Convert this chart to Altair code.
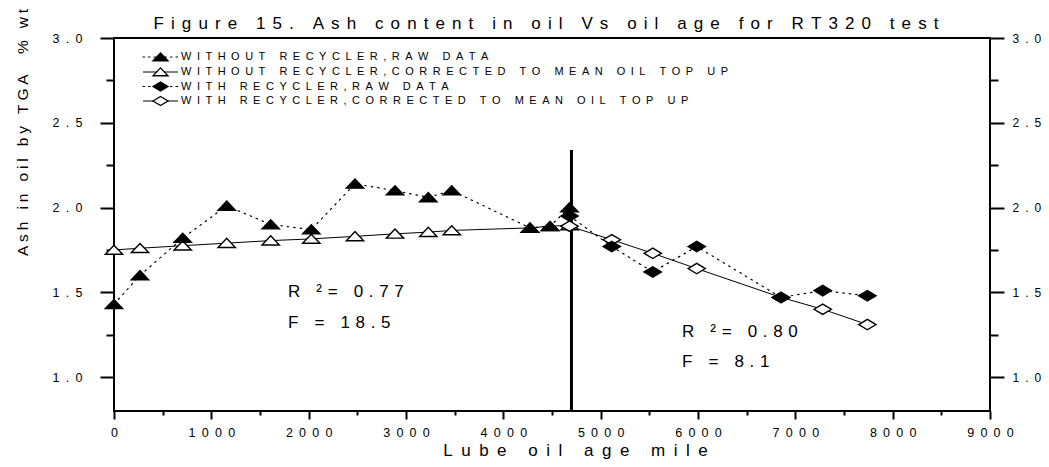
import altair as alt
import pandas as pd

# ---------------- data ----------------
without_miles = [0, 267, 706, 1158, 1610, 2027, 2476, 2887, 3229, 3470, 4274, 4480, 4680]
without_raw = [1.43, 1.60, 1.82, 2.01, 1.90, 1.87, 2.14, 2.10, 2.06, 2.10, 1.88, 1.89, 2.00]
without_corr = [1.75, 1.76, 1.775, 1.79, 1.805, 1.815, 1.83, 1.845, 1.855, 1.865, 1.88, 1.89, 1.895]
with_miles = [4680, 5114, 5535, 5987, 6853, 7281, 7740]
with_raw = [1.95, 1.77, 1.62, 1.77, 1.47, 1.51, 1.48]
with_corr = [1.89, 1.81, 1.73, 1.64, 1.47, 1.40, 1.31]

series_names = [
    "WITHOUT RECYCLER,RAW DATA",
    "WITHOUT RECYCLER,CORRECTED TO MEAN OIL TOP UP",
    "WITH RECYCLER,RAW DATA",
    "WITH RECYCLER,CORRECTED TO MEAN OIL TOP UP",
]
divider_mile = [4700]
divider_top = [2.34]
divider_bottom = [0.8]

x_major_ticks = [0, 1000, 2000, 3000, 4000, 5000, 6000, 7000, 8000, 9000]
x_minor_ticks = [500, 1500, 2500, 3500, 4500, 5500, 6500, 7500, 8500]
y_tick_values = [1.0, 1.25, 1.5, 1.75, 2.0, 2.25, 2.5, 2.75, 3.0]

annot_left = ["R ²= 0.77", "F = 18.5"]
annot_right = ["R ²= 0.80", "F = 8.1"]

title_text = "Figure 15. Ash content in oil Vs oil age for RT320 test"
x_title = "Lube oil age mile"
y_title = "Ash in oil by TGA  % wt"

# ---------------- helpers ----------------
FONT = "Liberation Sans"
EN = "\u2002"      # en space
THIRD = "\u2004"   # three-per-em space
FOUR = "\u2005"    # four-per-em space
SIX = "\u2006"     # six-per-em space


def spaced(s, sep=EN):
    return sep.join(list(s))


TRI = "M -1 0.5 L 1 0.5 L 0 -0.55 Z"
DIA = "M -1 0 L 0 -0.6 L 1 0 L 0 0.6 Z"
DOTS = [1.5, 5]

xs = alt.Scale(domain=[0, 9000], nice=False, zero=False)
ys = alt.Scale(domain=[0.8, 3.0], nice=False, zero=False)

series = [
    (series_names[0], without_miles, without_raw, TRI, True, True),
    (series_names[1], without_miles, without_corr, TRI, False, False),
    (series_names[2], with_miles, with_raw, DIA, True, True),
    (series_names[3], with_miles, with_corr, DIA, False, False),
]


def frame(miles, vals):
    return pd.DataFrame({"mile": miles, "ash": vals})


x_axis_major = alt.Axis(
    orient="bottom", values=x_major_ticks, grid=False, domain=False,
    tickColor="black", tickWidth=2, tickSize=8, format="d",
    labelExpr=f"join(split(datum.label, ''), '{EN}')",
    labelFont=FONT, labelFontSize=12.5, labelColor="black", labelPadding=7,
    labelFlush=False, labelOverlap=False,
    title=spaced(x_title), titleFont=FONT, titleFontSize=17, titleFontWeight="normal",
    titleColor="black", titleX=461, titleY=39, titleAlign="center", titleBaseline="middle",
)
x_axis_minor = alt.Axis(
    orient="bottom", values=x_minor_ticks, grid=False, domain=False,
    tickColor="black", tickWidth=2, tickSize=4, labels=False, title=None,
)

y_label_expr = f"datum.value % 0.5 > 0.01 ? '' : join(split(format(datum.value, '.1f'), ''), '{EN}')"
y_tick_size = {"condition": {"test": "datum.value % 0.5 > 0.01", "value": 8}, "value": 14}

y_axis_left = alt.Axis(
    orient="left", values=y_tick_values, grid=False, domain=False,
    tickColor="black", tickWidth=2, tickSize=y_tick_size,
    labelExpr=y_label_expr, labelFont=FONT, labelFontSize=12.5, labelColor="black",
    labelPadding=18, labelOverlap=False, labelFlush=False,
    title=spaced(y_title, FOUR), titleFont=FONT, titleFontSize=15.5, titleFontWeight="normal",
    titleColor="black", titleX=-92, titleY=94, titleAngle=270, titleAlign="center",
    titleBaseline="middle",
)

y_axis_right = alt.Axis(
    orient="right", values=y_tick_values, grid=False, domain=False,
    tickColor="black", tickWidth=2, tickSize=y_tick_size,
    labelExpr=y_label_expr, labelFont=FONT, labelFontSize=12, labelColor="black",
    labelPadding=8, labelOverlap=False, labelFlush=False, title="",
)

NOAX = None
layers = []

# lines
for i, (name, miles, vals, shape, filled, dotted) in enumerate(series):
    kw = dict(color="black", strokeWidth=1.2 if dotted else 1)
    if dotted:
        kw["strokeDash"] = DOTS
        kw["strokeCap"] = "round"
    ya = y_axis_left if i == 0 else (y_axis_right if i == 1 else NOAX)
    xa = x_axis_major if i == 0 else NOAX
    layers.append(
        alt.Chart(frame(miles, vals)).mark_line(**kw).encode(
            x=alt.X("mile:Q", scale=xs, axis=xa),
            y=alt.Y("ash:Q", scale=ys, axis=ya),
        )
    )

# divider (carries the minor x ticks)
layers.append(
    alt.Chart(pd.DataFrame({"mile": divider_mile, "top": divider_top, "bottom": divider_bottom}))
    .mark_rule(color="black", strokeWidth=3)
    .encode(
        x=alt.X("mile:Q", scale=xs, axis=x_axis_minor),
        y=alt.Y("top:Q", scale=ys, axis=NOAX),
        y2="bottom:Q",
    )
)

# markers: corrected first, raw on top
for idx in [1, 0, 3, 2]:
    name, miles, vals, shape, filled, dotted = series[idx]
    layers.append(
        alt.Chart(frame(miles, vals)).mark_point(
            shape=shape, size=300, filled=True,
            fill="black" if filled else "white", stroke="black",
            strokeWidth=1.4, opacity=1,
        ).encode(
            x=alt.X("mile:Q", scale=xs, axis=NOAX),
            y=alt.Y("ash:Q", scale=ys, axis=NOAX),
        )
    )

# legend (drawn inside the plot, top-left)
one = pd.DataFrame({"k": [0]})
row_y = [19, 34, 48.5, 63]
for i, (name, miles, vals, shape, filled, dotted) in enumerate(series):
    y = row_y[i]
    kw = dict(color="black", strokeWidth=1.2 if dotted else 1)
    if dotted:
        kw["strokeDash"] = [1.5, 4]
        kw["strokeCap"] = "round"
    layers.append(
        alt.Chart(one).mark_rule(**kw).encode(
            x=alt.value(29), x2=alt.value(64), y=alt.value(y)
        )
    )
    layers.append(
        alt.Chart(one).mark_point(
            shape=shape, size=225, filled=True,
            fill="black" if filled else "white", stroke="black",
            strokeWidth=1.3, opacity=1,
        ).encode(x=alt.value(46.5), y=alt.value(y))
    )
    layers.append(
        alt.Chart(one).mark_text(
            align="left", baseline="middle", font=FONT, fontSize=11, color="black"
        ).encode(x=alt.value(67), y=alt.value(y), text=alt.value(spaced(name)))
    )

# annotations
for j, t in enumerate(annot_left):
    layers.append(
        alt.Chart(one).mark_text(
            align="left", baseline="middle", font=FONT, fontSize=17, color="black"
        ).encode(x=alt.value(174), y=alt.value(254 + 31 * j), text=alt.value(spaced(t, THIRD)))
    )
for j, t in enumerate(annot_right):
    layers.append(
        alt.Chart(one).mark_text(
            align="left", baseline="middle", font=FONT, fontSize=17, color="black"
        ).encode(x=alt.value(568), y=alt.value(294 + 30 * j), text=alt.value(spaced(t, THIRD)))
    )

# chart title as a text mark above the plot
layers.append(
    alt.Chart(one).mark_text(
        align="center", baseline="alphabetic", font=FONT, fontSize=17, color="black"
    ).encode(x=alt.value(432), y=alt.value(-9), text=alt.value(spaced(title_text, SIX + FOUR)))
)

chart = (
    alt.layer(*layers)
    .resolve_axis(y="independent", x="independent")
    .properties(
        width=876,
        height=373,
        autosize=alt.AutoSizeParams(type="none"),
        padding={"left": 106, "top": 30, "right": 51, "bottom": 48},
        background="white",
    )
    .configure_view(stroke="black", strokeWidth=2)
)

chart.save("out.html", embed_options={"renderer": "svg", "actions": False})
